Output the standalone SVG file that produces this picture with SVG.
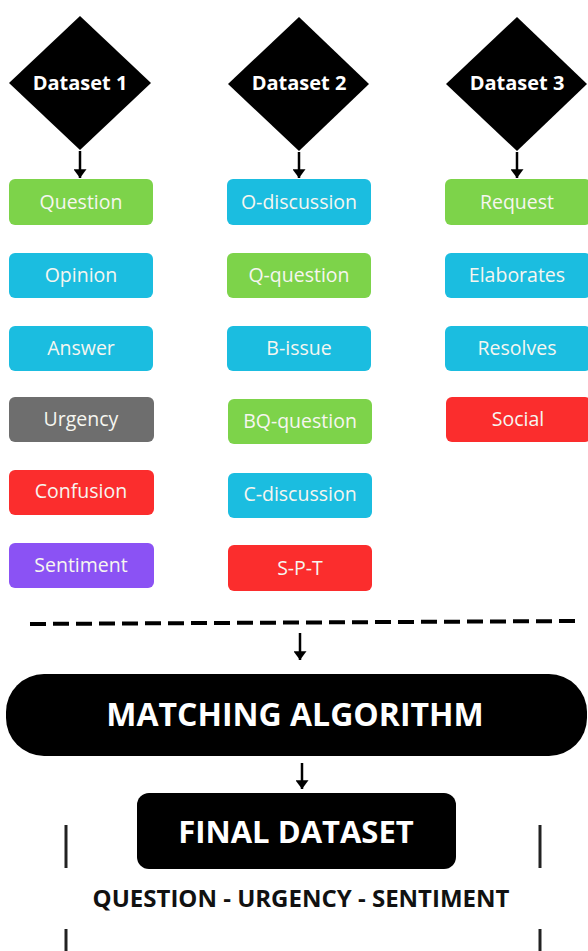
<svg xmlns="http://www.w3.org/2000/svg" width="588" height="951" viewBox="0 0 588 951">
  <style>
    .diamond { fill: #000; }
    .dlabel { font-family: "Open Sans", "Noto Sans", sans-serif; font-weight: 700; font-size: 20px; fill: #fff; text-anchor: middle; }
    .box { stroke: none; }
    .green { fill: #7dd34a; }
    .cyan { fill: #1bbde0; }
    .gray { fill: #6e6e6e; }
    .red { fill: #fb2d2d; }
    .purple { fill: #8b52f4; }
    .blabel { font-family: "Open Sans", "Noto Sans", sans-serif; font-size: 19.5px; fill: #f6f6f0; text-anchor: middle; }
    .big { font-family: "Open Sans", "Noto Sans", sans-serif; font-weight: 700; fill: #fff; text-anchor: middle; }
    .caption { font-family: "Open Sans", "Noto Sans", sans-serif; font-weight: 700; font-size: 24px; fill: #111; text-anchor: middle; }
    .conn { stroke: #000; stroke-width: 2.5; fill: none; }
    .dash { stroke: #000; stroke-width: 4; stroke-dasharray: 16 7; fill: none; }
    .bar { stroke: #222; stroke-width: 3; }
  </style>
  <defs>
    <!-- arrowhead drawn along +x so orient="auto" points it down the line -->
    <marker id="arrow" viewBox="0 0 8 12" refX="8" refY="6" markerWidth="9" markerHeight="13" markerUnits="userSpaceOnUse" orient="auto">
      <path d="M0,0 L8,6 L0,12 Z" fill="#000"/>
    </marker>
  </defs>

  <rect width="588" height="951" fill="#fff"/>

  <!-- Source datasets -->
  <g id="dataset1">
    <polygon class="diamond" points="80,16 151,83 80,150 9,83"/>
    <text class="dlabel" x="80" y="90">Dataset 1</text>
  </g>
  <g id="dataset2">
    <polygon class="diamond" points="299,17 369,84 299,151 228,84"/>
    <text class="dlabel" x="299" y="90">Dataset 2</text>
  </g>
  <g id="dataset3">
    <polygon class="diamond" points="517,17 587,84 517,151 446,84"/>
    <text class="dlabel" x="517" y="90">Dataset 3</text>
  </g>

  <!-- Dataset 1 labels -->
  <g id="d1-question"><rect class="box green" x="9" y="179" width="144" height="46" rx="6"/><text class="blabel" x="81" y="209">Question</text></g>
  <g id="d1-opinion"><rect class="box cyan" x="9" y="253" width="144" height="45" rx="6"/><text class="blabel" x="81" y="282">Opinion</text></g>
  <g id="d1-answer"><rect class="box cyan" x="9" y="326" width="144" height="45" rx="6"/><text class="blabel" x="81" y="355">Answer</text></g>
  <g id="d1-urgency"><rect class="box gray" x="9" y="397" width="145" height="45" rx="6"/><text class="blabel" x="81" y="426">Urgency</text></g>
  <g id="d1-confusion"><rect class="box red" x="9" y="470" width="145" height="45" rx="6"/><text class="blabel" x="81" y="498">Confusion</text></g>
  <g id="d1-sentiment"><rect class="box purple" x="9" y="543" width="145" height="45" rx="6"/><text class="blabel" x="81" y="572">Sentiment</text></g>

  <!-- Dataset 2 labels -->
  <g id="d2-odiscussion"><rect class="box cyan" x="227" y="179" width="144" height="46" rx="6"/><text class="blabel" x="299" y="209">O-discussion</text></g>
  <g id="d2-qquestion"><rect class="box green" x="227" y="253" width="144" height="45" rx="6"/><text class="blabel" x="299" y="282">Q-question</text></g>
  <g id="d2-bissue"><rect class="box cyan" x="227" y="326" width="144" height="45" rx="6"/><text class="blabel" x="299" y="355">B-issue</text></g>
  <g id="d2-bqquestion"><rect class="box green" x="228" y="399" width="144" height="45" rx="6"/><text class="blabel" x="300" y="428">BQ-question</text></g>
  <g id="d2-cdiscussion"><rect class="box cyan" x="228" y="473" width="144" height="45" rx="6"/><text class="blabel" x="300" y="501">C-discussion</text></g>
  <g id="d2-spt"><rect class="box red" x="228" y="545" width="144" height="46" rx="6"/><text class="blabel" x="300" y="575">S-P-T</text></g>

  <!-- Dataset 3 labels -->
  <g id="d3-request"><rect class="box green" x="445" y="179" width="146" height="46" rx="6"/><text class="blabel" x="517" y="209">Request</text></g>
  <g id="d3-elaborates"><rect class="box cyan" x="445" y="253" width="146" height="45" rx="6"/><text class="blabel" x="517" y="282">Elaborates</text></g>
  <g id="d3-resolves"><rect class="box cyan" x="445" y="326" width="146" height="45" rx="6"/><text class="blabel" x="517" y="355">Resolves</text></g>
  <g id="d3-social"><rect class="box red" x="446" y="397" width="145" height="45" rx="6"/><text class="blabel" x="518" y="426">Social</text></g>

  <!-- Merge stage -->
  <g id="matching">
    <rect x="6" y="674" width="581" height="82" rx="38" fill="#000"/>
    <text class="big" x="295" y="726" font-size="32">MATCHING ALGORITHM</text>
  </g>
  <g id="final">
    <rect x="137" y="793" width="319" height="76" rx="12" fill="#000"/>
    <text class="big" x="296" y="843" font-size="31">FINAL DATASET</text>
    <text class="caption" x="301" y="907">QUESTION - URGENCY - SENTIMENT</text>
    <line class="bar" x1="66" y1="825" x2="66" y2="868"/>
    <line class="bar" x1="540" y1="825" x2="540" y2="868"/>
    <line class="bar" x1="66" y1="929" x2="66" y2="951"/>
    <line class="bar" x1="540" y1="929" x2="540" y2="951"/>
  </g>

  <!-- Connectors -->
  <g id="connectors">
    <line class="conn" x1="80" y1="151" x2="80" y2="178" marker-end="url(#arrow)"/>
    <line class="conn" x1="299" y1="152" x2="299" y2="178" marker-end="url(#arrow)"/>
    <line class="conn" x1="517" y1="152" x2="517" y2="178" marker-end="url(#arrow)"/>
    <line class="dash" x1="30" y1="624" x2="578" y2="621"/>
    <line class="conn" x1="300" y1="633" x2="300" y2="660" marker-end="url(#arrow)"/>
    <line class="conn" x1="302" y1="763" x2="302" y2="789" marker-end="url(#arrow)"/>
  </g>
</svg>
